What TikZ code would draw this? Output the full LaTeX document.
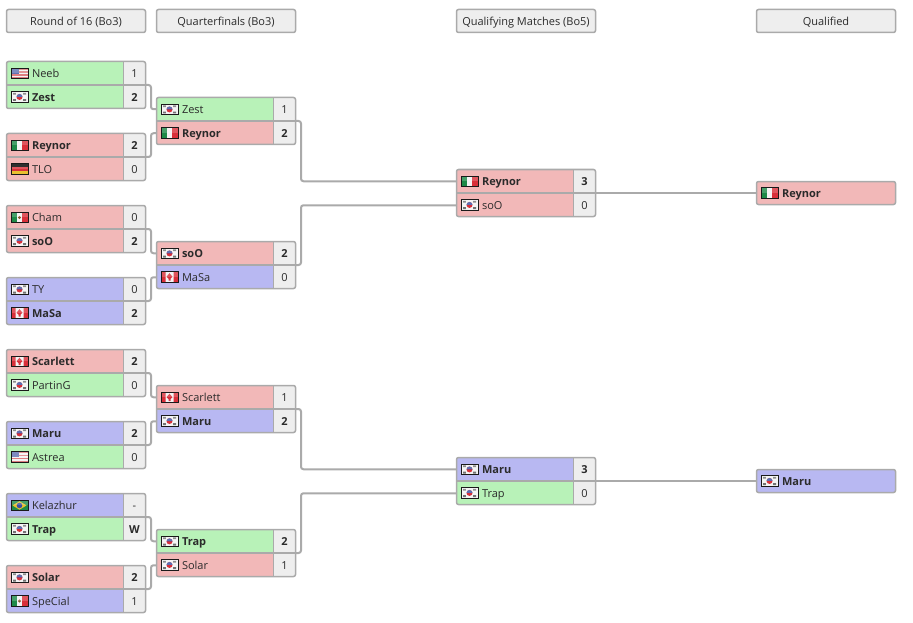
\documentclass[tikz,border=0pt]{standalone}
\usepackage{fontspec}
\setmainfont{Open Sans}
\definecolor{pz}{HTML}{B8F2B8}
\definecolor{pt}{HTML}{F2B8B8}
\definecolor{pb}{HTML}{B8B8F2}
\definecolor{cellgrey}{HTML}{EEEEEE}
\definecolor{edgegrey}{HTML}{AAAAAA}
\definecolor{ink}{HTML}{2B2B2B}
\definecolor{fl}{HTML}{1A1A1A}
\definecolor{flred}{HTML}{D8303A}
\definecolor{flpink}{HTML}{DE7E80}
\definecolor{flgreen}{HTML}{1E8A48}
\definecolor{flblue}{HTML}{3A4FA0}
\definecolor{flgold}{HTML}{E8C030}
\definecolor{flpale}{HTML}{F4F4F4}
\tikzset{
  headcell/.style={draw=edgegrey,line width=1.5pt,fill=cellgrey,rounded corners=2pt,minimum width=139pt,minimum height=23pt,inner sep=0pt,outer sep=0pt,anchor=north west,text=ink,text height=11.5pt,text depth=2pt,font=\fontsize{11}{13}\selectfont},
  namecell/.style={minimum width=117pt,minimum height=23.5pt,inner sep=0pt,anchor=north west,text=ink,text width=117pt,align=left,text height=10pt,text depth=2pt,font=\fontsize{11}{13}\selectfont,outer sep=0pt},
  scorecell/.style={minimum width=22pt,minimum height=23.5pt,inner sep=0pt,anchor=north west,text=ink,fill=cellgrey,align=center,text height=10pt,text depth=2pt,font=\fontsize{11}{13}\selectfont,outer sep=0pt},
  lowrow/.style={minimum height=24.5pt},
  rule/.style={draw=edgegrey,line width=1.5pt},
  divider/.style={draw=edgegrey,line width=2pt},
  conn/.style={draw=edgegrey,line width=2pt,rounded corners=2.5pt},
  flagedge/.style={draw=fl,line width=1pt}
}
% flags: 17 x 10.5
\newcommand\flagframe{\fill[white,fill opacity=.18] (0,0) rectangle (17,5);\draw[flagedge] (0,0) rectangle (17,10.5);}
\newcommand\flagkr{\fill[flpale] (0,0) rectangle (17,10.5);
  \fill[black!55] (2,1.2) rectangle (4.8,3) (12.2,1.2) rectangle (15,3) (2,7.5) rectangle (4.8,9.3) (12.2,7.5) rectangle (15,9.3);
  \fill[flred] (8.5,5.25) circle (3);
  \fill[flblue] (5.5,5.25) arc[start angle=180,end angle=360,radius=3] -- cycle;
  \flagframe}
\newcommand\flagus{\fill[flpale] (0,0) rectangle (17,10.5);
  \foreach \s in {0,3,6,9}{\fill[flpink] (0,\s) rectangle (17,\s+1.5);}
  \fill[flblue!80!white] (0,0) rectangle (7.5,5.5);
  \flagframe}
\newcommand\flagit{\fill[flpale] (0,0) rectangle (17,10.5);
  \fill[flgreen] (0,0) rectangle (5.7,10.5);
  \fill[flred] (11.3,0) rectangle (17,10.5);
  \flagframe}
\newcommand\flagde{\fill[black] (0,0) rectangle (17,3.5);
  \fill[flred] (0,3.5) rectangle (17,7);
  \fill[flgold] (0,7) rectangle (17,10.5);
  \flagframe}
\newcommand\flagmx{\fill[flpale] (0,0) rectangle (17,10.5);
  \fill[flgreen] (0,0) rectangle (5.7,10.5);
  \fill[flred] (11.3,0) rectangle (17,10.5);
  \fill[brown!70!black] (8.5,5.25) circle (1.6);
  \flagframe}
\newcommand\flagca{\fill[flpale] (0,0) rectangle (17,10.5);
  \fill[flred] (0,0) rectangle (4.5,10.5) (12.5,0) rectangle (17,10.5);
  \fill[flred] (8.5,1.5) -- (11.5,5) -- (9.5,7) -- (9.5,9) -- (7.5,9) -- (7.5,7) -- (5.5,5) -- cycle;
  \flagframe}
\newcommand\flagbr{\fill[flgreen] (0,0) rectangle (17,10.5);
  \fill[flgold] (1.5,5.25) -- (8.5,1) -- (15.5,5.25) -- (8.5,9.5) -- cycle;
  \fill[flblue] (8.5,5.25) circle (2.8);
  \flagframe}
% id, y offset, extra style, colour, flag, name, score
\newcommand\rowbox[7]{%
  \node[namecell,#3,fill=#4] (#1n) at (0,#2) {\hspace*{25.5pt}#6};
  \node[scorecell,#3] (#1s) at (117,#2) {#7};
  \begin{scope}[shift={(4.5,#2+6.7)}]\csname flag#5\endcsname\end{scope}%
}
% id, x, y, row a, row b
\newcommand\matchtwo[5]{%
  \begin{scope}[shift={(#2,#3)}]
    \begin{scope}
      \clip[rounded corners=2pt] (0,0) rectangle (139,47);
      \rowbox{#1a}{0}{}#4
      \rowbox{#1b}{23.5}{lowrow}#5
    \end{scope}
    \draw[rule] (117,0) -- (117,47);
    \draw[divider] (0,23.5) -- (139,23.5);
    \draw[rule,rounded corners=2pt] (0,0) rectangle (139,47);
  \end{scope}%
}
\newcommand\matchone[6]{%
  \begin{scope}[shift={(#2,#3)}]
    \begin{scope}
      \clip[rounded corners=2pt] (0,0) rectangle (139,23);
      \node[namecell,minimum width=139pt,minimum height=23pt,text width=139pt,fill=#4] (#1n) at (0,0) {\hspace*{25.5pt}#6};
      \begin{scope}[shift={(4.5,6.2)}]\csname flag#5\endcsname\end{scope}
    \end{scope}
    \draw[rule,rounded corners=2pt] (0,0) rectangle (139,23);
  \end{scope}%
}
\newcommand\win[1]{\textbf{#1}}
\begin{document}
\begin{tikzpicture}[x=1pt,y=-1pt]
\useasboundingbox (0,0) rectangle (913,623);
\fill[white] (0,0) rectangle (913,623);
% headers
\node[headcell] (h1) at (6.5,9.5) {Round of 16 (Bo3)};
\node[headcell] (h2) at (156.5,9.5) {Quarterfinals (Bo3)};
\node[headcell] (h3) at (456.5,9.5) {Qualifying Matches (Bo5)};
\node[headcell] (h4) at (756.5,9.5) {Qualified};
% round of 16
\matchtwo{ra}{6.5}{61.5}{{pz}{us}{Neeb}{1}}{{pz}{kr}{\win{Zest}}{\win{2}}}
\matchtwo{rb}{6.5}{133.5}{{pt}{it}{\win{Reynor}}{\win{2}}}{{pt}{de}{TLO}{0}}
\matchtwo{rc}{6.5}{205.5}{{pt}{mx}{Cham}{0}}{{pt}{kr}{\win{soO}}{\win{2}}}
\matchtwo{rd}{6.5}{277.5}{{pb}{kr}{TY}{0}}{{pb}{ca}{\win{MaSa}}{\win{2}}}
\matchtwo{re}{6.5}{349.5}{{pt}{ca}{\win{Scarlett}}{\win{2}}}{{pz}{kr}{PartinG}{0}}
\matchtwo{rf}{6.5}{421.5}{{pb}{kr}{\win{Maru}}{\win{2}}}{{pz}{us}{Astrea}{0}}
\matchtwo{rg}{6.5}{493.5}{{pb}{br}{Kelazhur}{-}}{{pz}{kr}{\win{Trap}}{\win{W}}}
\matchtwo{rh}{6.5}{565.5}{{pt}{kr}{\win{Solar}}{\win{2}}}{{pb}{mx}{SpeCial}{1}}
% quarterfinals
\matchtwo{qa}{156.5}{97.5}{{pz}{kr}{Zest}{1}}{{pt}{it}{\win{Reynor}}{\win{2}}}
\matchtwo{qb}{156.5}{241.5}{{pt}{kr}{\win{soO}}{\win{2}}}{{pb}{ca}{MaSa}{0}}
\matchtwo{qc}{156.5}{385.5}{{pt}{ca}{Scarlett}{1}}{{pb}{kr}{\win{Maru}}{\win{2}}}
\matchtwo{qd}{156.5}{529.5}{{pz}{kr}{\win{Trap}}{\win{2}}}{{pt}{kr}{Solar}{1}}
% qualifying
\matchtwo{sa}{456.5}{169.5}{{pt}{it}{\win{Reynor}}{\win{3}}}{{pt}{kr}{soO}{0}}
\matchtwo{sb}{456.5}{457.5}{{pb}{kr}{\win{Maru}}{\win{3}}}{{pz}{kr}{Trap}{0}}
% qualified
\matchone{fa}{756.5}{181.5}{pt}{it}{\win{Reynor}}
\matchone{fb}{756.5}{469.5}{pb}{kr}{\win{Maru}}
% connectors
\draw[conn] (raas.south east) -- ++(5.5,0) |- (qaan.west);
\draw[conn] (rcas.south east) -- ++(5.5,0) |- (qban.west);
\draw[conn] (reas.south east) -- ++(5.5,0) |- (qcan.west);
\draw[conn] (rgas.south east) -- ++(5.5,0) |- (qdan.west);
\draw[conn] (rbas.south east) -- ++(5.5,0) |- (qabn.west);
\draw[conn] (rdas.south east) -- ++(5.5,0) |- (qbbn.west);
\draw[conn] (rfas.south east) -- ++(5.5,0) |- (qcbn.west);
\draw[conn] (rhas.south east) -- ++(5.5,0) |- (qdbn.west);
\draw[conn] (qaas.south east) -- ++(5.5,0) |- (saan.west);
\draw[conn] (qbas.south east) -- ++(5.5,0) |- (sabn.west);
\draw[conn] (qcas.south east) -- ++(5.5,0) |- (sban.west);
\draw[conn] (qdas.south east) -- ++(5.5,0) |- (sbbn.west);
\draw[conn] (saas.south east) -- (fan.west);
\draw[conn] (sbas.south east) -- (fbn.west);
\end{tikzpicture}
\end{document}
